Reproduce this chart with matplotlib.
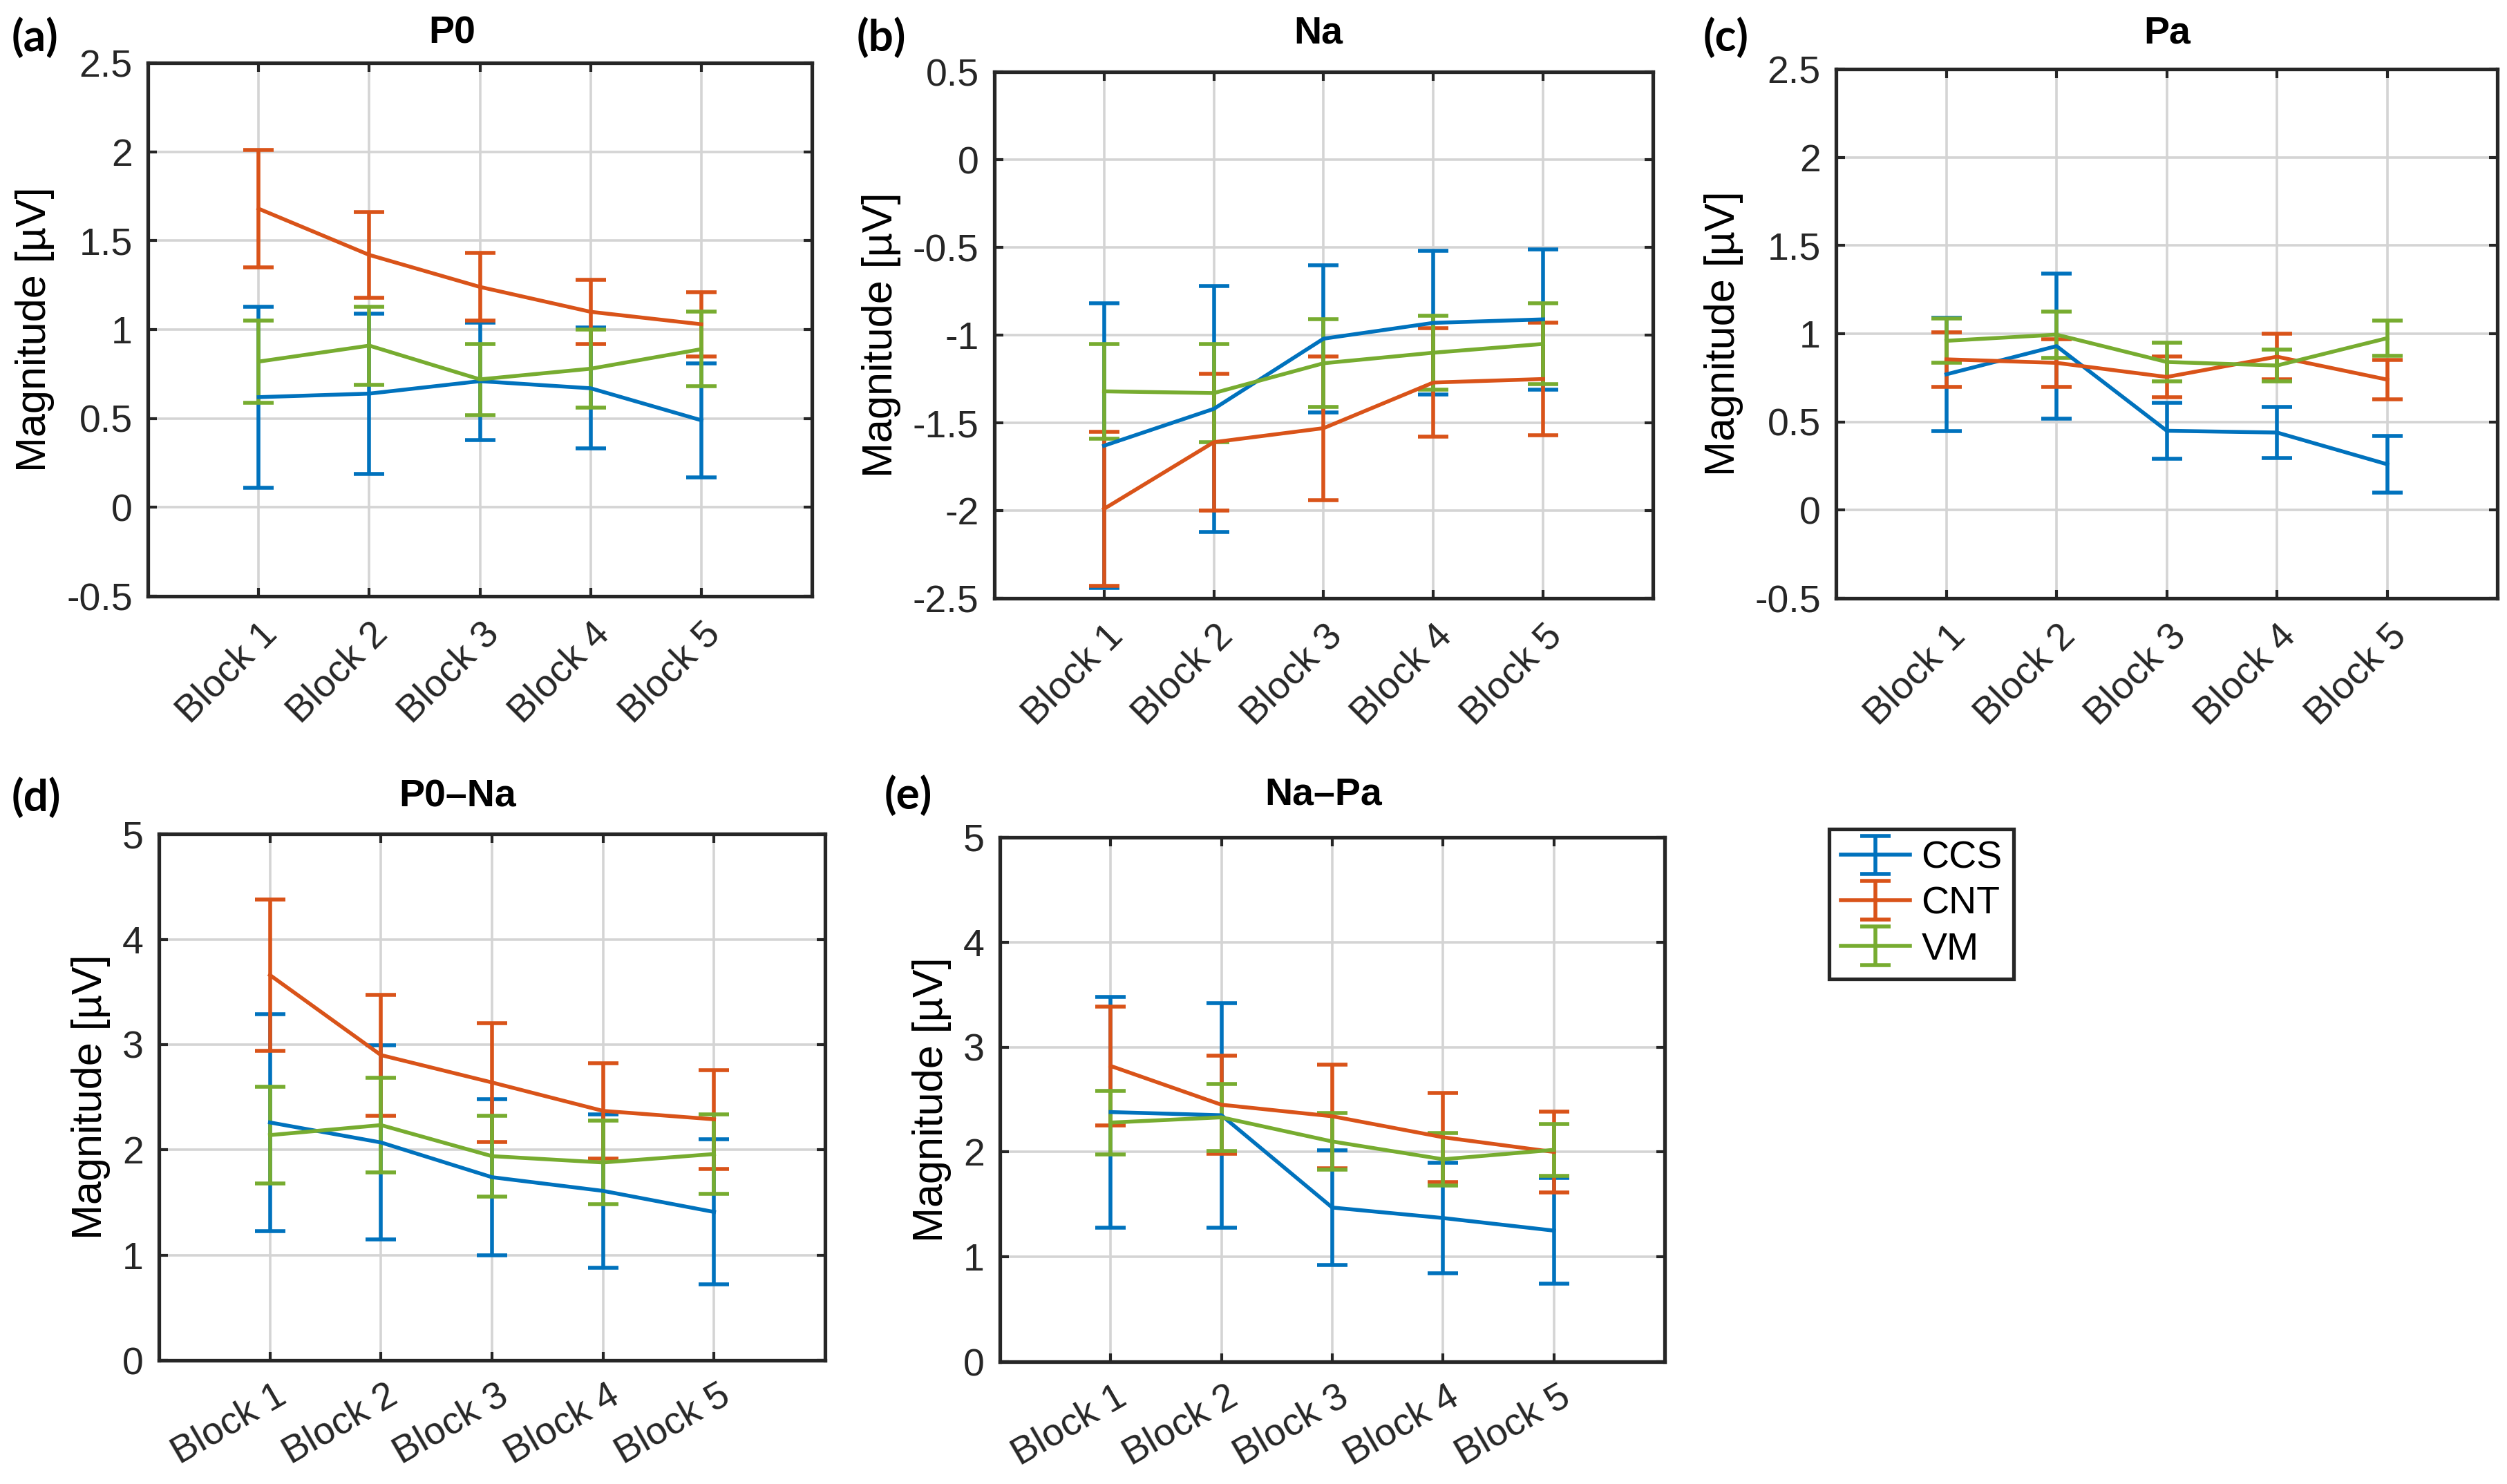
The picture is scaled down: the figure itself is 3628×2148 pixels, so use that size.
import matplotlib
matplotlib.use("Agg")
import matplotlib.pyplot as plt
import matplotlib.transforms as mtransforms
import numpy as np

plt.rcParams['font.family'] = ['Liberation Sans', 'DejaVu Sans']

# %%
# values (mean and half error bar per block)

blocks = ["Block 1", "Block 2", "Block 3", "Block 4", "Block 5"]
groups = ["CCS", "CNT", "VM"]

# P0
p0_ccs = [0.62, 0.64, 0.71, 0.67, 0.49]
p0_ccs_err = [0.51, 0.45, 0.33, 0.34, 0.32]
p0_cnt = [1.68, 1.42, 1.24, 1.10, 1.03]
p0_cnt_err = [0.33, 0.24, 0.19, 0.18, 0.18]
p0_vm = [0.82, 0.91, 0.72, 0.78, 0.89]
p0_vm_err = [0.23, 0.22, 0.20, 0.22, 0.21]

# Na
na_ccs = [-1.63, -1.42, -1.02, -0.93, -0.91]
na_ccs_err = [0.81, 0.70, 0.42, 0.41, 0.40]
na_cnt = [-1.99, -1.61, -1.53, -1.27, -1.25]
na_cnt_err = [0.44, 0.39, 0.41, 0.31, 0.32]
na_vm = [-1.32, -1.33, -1.16, -1.10, -1.05]
na_vm_err = [0.27, 0.28, 0.25, 0.21, 0.23]

# Pa
pa_ccs = [0.77, 0.93, 0.45, 0.44, 0.26]
pa_ccs_err = [0.32, 0.41, 0.16, 0.145, 0.16]
pa_cnt = [0.855, 0.835, 0.755, 0.87, 0.74]
pa_cnt_err = [0.155, 0.135, 0.115, 0.13, 0.11]
pa_vm = [0.96, 0.995, 0.84, 0.82, 0.975]
pa_vm_err = [0.125, 0.13, 0.11, 0.09, 0.10]

# P0-Na
p0na_ccs = [2.26, 2.07, 1.74, 1.61, 1.41]
p0na_ccs_err = [1.03, 0.92, 0.74, 0.73, 0.69]
p0na_cnt = [3.66, 2.90, 2.64, 2.37, 2.29]
p0na_cnt_err = [0.72, 0.575, 0.565, 0.455, 0.47]
p0na_vm = [2.14, 2.235, 1.94, 1.88, 1.96]
p0na_vm_err = [0.46, 0.45, 0.385, 0.395, 0.375]

# Na-Pa
napa_ccs = [2.38, 2.35, 1.47, 1.37, 1.25]
napa_ccs_err = [1.10, 1.07, 0.545, 0.525, 0.505]
napa_cnt = [2.82, 2.45, 2.34, 2.14, 2.00]
napa_cnt_err = [0.565, 0.465, 0.495, 0.425, 0.385]
napa_vm = [2.28, 2.33, 2.10, 1.93, 2.02]
napa_vm_err = [0.305, 0.32, 0.27, 0.25, 0.245]

# matlab default colours
colors = ["#0072BD", "#D95319", "#77AC30"]

# %%

fig = plt.figure(figsize=(18.14, 10.74), dpi=200)

panels = [
    # letter, title, rect, ylim, yticks, rotation, data, title pos, letter pos
    ("(a)", "P0", [0.0590, 0.5982, 0.2649, 0.3594], (-0.5, 2.5), np.arange(-0.5, 2.51, 0.5), 45,
     [(p0_ccs, p0_ccs_err), (p0_cnt, p0_cnt_err), (p0_vm, p0_vm_err)], (0.1803, 0.9772), (0.0045, 0.975)),
    ("(b)", "Na", [0.3966, 0.5968, 0.2627, 0.3547], (-2.5, 0.5), np.arange(-2.5, 0.51, 0.5), 45,
     [(na_ccs, na_ccs_err), (na_cnt, na_cnt_err), (na_vm, na_vm_err)], (0.5259, 0.9772), (0.3418, 0.975)),
    ("(c)", "Pa", [0.7324, 0.5968, 0.2638, 0.3566], (-0.5, 2.5), np.arange(-0.5, 2.51, 0.5), 45,
     [(pa_ccs, pa_ccs_err), (pa_cnt, pa_cnt_err), (pa_vm, pa_vm_err)], (0.8644, 0.9772), (0.6792, 0.975)),
    ("(d)", "P0\u2013Na", [0.0634, 0.0833, 0.2657, 0.3547], (0, 5), np.arange(0, 5.1, 1), 30,
     [(p0na_ccs, p0na_ccs_err), (p0na_cnt, p0na_cnt_err), (p0na_vm, p0na_vm_err)], (0.1825, 0.4632), (0.0045, 0.4628)),
    ("(e)", "Na\u2013Pa", [0.3988, 0.0824, 0.2652, 0.3534], (0, 5), np.arange(0, 5.1, 1), 30,
     [(napa_ccs, napa_ccs_err), (napa_cnt, napa_cnt_err), (napa_vm, napa_vm_err)], (0.5278, 0.4646), (0.3526, 0.4640)),
]

x = np.arange(1, len(blocks) + 1)
handles = []

for letter, title, rect, ylim, yticks, rot, data, tpos, lpos in panels:
    ax = fig.add_axes(rect)
    hs = []
    for (m, e), c, g in zip(data, colors, groups):
        h = ax.errorbar(x, m, yerr=e, color=c, lw=2.0, elinewidth=2.0, capsize=8, capthick=2.0, label=g)
        hs.append(h)
    handles = hs

    ax.set_xlim(0, 6)
    ax.set_ylim(*ylim)
    ax.set_xticks(x)
    ax.set_yticks(yticks)
    ax.set_yticklabels(["%g" % v for v in yticks])
    ax.set_xticklabels(blocks, rotation=rot, ha="right", va="center", rotation_mode="anchor")

    ax.grid(True, color="#d4d4d4", lw=1.3)
    ax.set_axisbelow(True)
    ax.tick_params(direction="in", top=True, right=True, length=4.5, width=1.5,
                   color="#262626", labelcolor="#262626", labelsize=20)
    ax.tick_params(axis="y", pad=8)
    ax.tick_params(axis="x", pad=17)
    for sp in ax.spines.values():
        sp.set_linewidth(1.9)
        sp.set_color("#262626")

    # shift the rotated labels a bit to the right like matlab does
    off = mtransforms.ScaledTranslation(7 / 72, 0, fig.dpi_scale_trans)
    for lab in ax.get_xticklabels():
        lab.set_transform(lab.get_transform() + off)

    ax.set_ylabel("Magnitude [\u00b5V]", fontsize=22, labelpad=6)

    fig.text(tpos[0], tpos[1], title, ha="center", va="center", fontsize=20, fontweight="bold")
    fig.text(lpos[0], lpos[1], letter, ha="left", va="center", fontsize=23, fontweight="bold",
             family=["Lato", "DejaVu Sans"])

leg = fig.legend(handles, groups, loc="upper left", bbox_to_anchor=(0.7296, 0.4413),
                 fontsize=20, fancybox=False, framealpha=1, edgecolor="#262626",
                 handlelength=1.8, labelspacing=0.25, borderpad=0.3, handletextpad=0.3,
                 borderaxespad=0)
leg.get_frame().set_linewidth(1.9)

fig.savefig("out.png", dpi=200)
